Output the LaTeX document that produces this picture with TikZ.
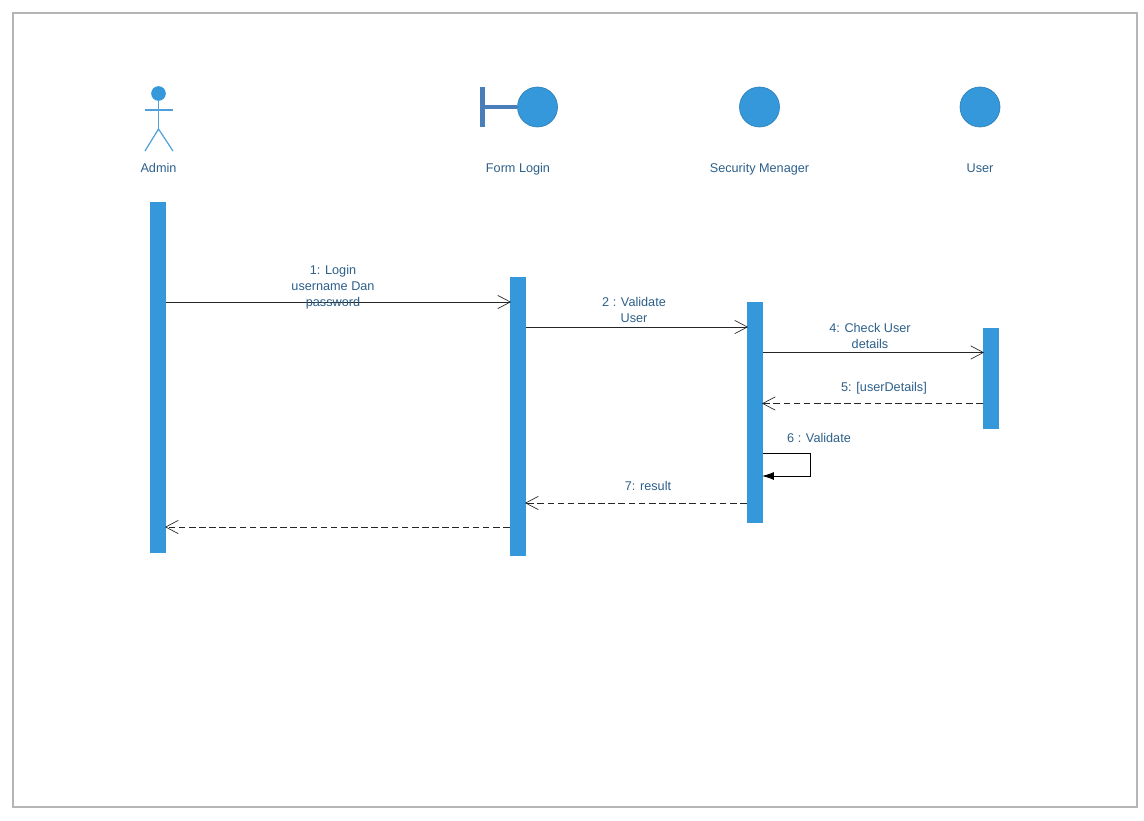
\documentclass[tikz,border=0pt]{standalone}
\usepackage{fontspec}
\setmainfont{Liberation Sans}
\usepackage{tikz}
\usetikzlibrary{arrows.meta}
\definecolor{barblue}{HTML}{3498DB}
\definecolor{edgeblue}{HTML}{2E7FB8}
\definecolor{stemblue}{HTML}{4A7EBB}
\definecolor{textblue}{HTML}{2C5F8A}
\definecolor{framegray}{HTML}{B5B5B5}
\definecolor{actorblue}{HTML}{4FA0D8}
\tikzset{
  lifebar/.style={fill=barblue, inner sep=0pt, minimum width=12pt},
  objcircle/.style={circle, fill=barblue, draw=edgeblue, line width=0.5pt, inner sep=0pt, minimum size=30pt},
  objlabel/.style={text=textblue, font=\fontsize{9.5}{12}\selectfont, align=center, inner sep=0pt},
  namelabel/.style={objlabel, anchor=base},
  callmsg/.style={black!85, line width=0.7pt, shorten >=-1pt, -{Straight Barb[length=9.5pt,width=10pt,line width=0.5pt]}},
  returnmsg/.style={callmsg, dash pattern=on 5pt off 2.6pt},
  actorline/.style={actorblue, line width=0.9pt}
}
\begin{document}
\begin{tikzpicture}[x=0.75pt, y=-0.75pt]
\useasboundingbox (0,0) rectangle (1144,820);
\node[draw=framegray, line width=1.2pt, inner sep=0pt, minimum width=843pt, minimum height=595.5pt] (frame) at (575,410) {};

% actor
\node[circle, fill=barblue, inner sep=0pt, minimum size=11pt] (adminhead) at (158.5,93.5) {};
\coordinate (adminhip) at (158.5,129);
\coordinate (adminarml) at (145,110);
\coordinate (adminarmr) at (173,110);
\coordinate (adminfootl) at (145,151);
\coordinate (adminfootr) at (173,151);
\draw[actorline] (adminhead) -- (adminhip);
\draw[actorline] (adminarml) -- (adminarmr);
\draw[actorline] (adminfootl) -- (adminhip) -- (adminfootr);
\node[namelabel] (adminlabel) at (158.5,172) {Admin};

% objects
\node[fill=stemblue, inner sep=0pt, minimum width=3.8pt, minimum height=30pt] (formbar) at (482.5,107) {};
\node[objcircle] (formcircle) at (537.5,107) {};
\draw[stemblue, line width=3.6pt] (formbar) -- (formcircle);
\node[namelabel] (formlabel) at (518,172) {Form Login};
\node[objcircle] (seccircle) at (759.5,107) {};
\node[namelabel] (seclabel) at (759.5,172) {Security Menager};
\node[objcircle] (usercircle) at (980,107) {};
\node[namelabel] (userlabel) at (980,172) {User};

% lifelines
\node[lifebar, minimum height=263.25pt] (adminbar) at (158,377.5) {};
\node[lifebar, minimum height=209.25pt] (formlife) at (518,416.5) {};
\node[lifebar, minimum height=165.75pt] (seclife) at (755,412.5) {};
\node[lifebar, minimum height=75.75pt] (userlife) at (991,378.5) {};

% message heights
\coordinate (m1) at (0,302);
\coordinate (m2) at (0,327);
\coordinate (m4) at (0,352.5);
\coordinate (m5) at (0,403.5);
\coordinate (m6a) at (810,453);
\coordinate (m6b) at (810,476);
\coordinate (m7) at (0,503);
\coordinate (m8) at (0,527);

\draw[callmsg] (adminbar.east |- m1) -- (formlife.west |- m1);
\draw[callmsg] (formlife.east |- m2) -- (seclife.west |- m2);
\draw[callmsg] (seclife.east |- m4) -- (userlife.west |- m4);
\draw[returnmsg] (userlife.west |- m5) -- (seclife.east |- m5);
\draw[black, line width=0.7pt, shorten >=-1pt, -{Latex[length=9pt,width=6pt]}] (seclife.east |- m6a) -- (m6a) -- (m6b) -- (seclife.east |- m6b);
\draw[returnmsg] (seclife.west |- m7) -- (formlife.east |- m7);
\draw[returnmsg] (formlife.west |- m8) -- (adminbar.east |- m8);

\node[objlabel] (msgone) at (333,287) {1: Login\\username Dan\\password};
\node[objlabel] (msgtwo) at (634,310) {2 : Validate\\User};
\node[objlabel] (msgfour) at (870,336) {4: Check User\\details};
\node[namelabel] (msgfive) at (884,391) {5: [userDetails]};
\node[namelabel] (msgsix) at (819,442) {6 : Validate};
\node[namelabel] (msgseven) at (648,490) {7: result};
\end{tikzpicture}
\end{document}
